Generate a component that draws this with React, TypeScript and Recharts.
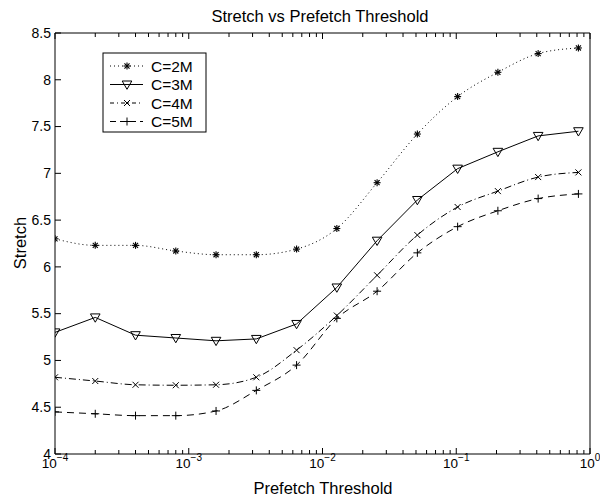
import React from 'react';
import { LineChart, Line, XAxis, YAxis, Customized } from 'recharts';

// Data
const thresholds = [0.0001, 0.0002, 0.0004, 0.0008, 0.0016, 0.0032, 0.0064, 0.0128, 0.0256, 0.0512, 0.1024, 0.2048, 0.4096, 0.8192];
const c2M = [6.30, 6.23, 6.23, 6.17, 6.13, 6.13, 6.19, 6.41, 6.90, 7.42, 7.82, 8.08, 8.28, 8.34];
const c3M = [5.30, 5.46, 5.27, 5.24, 5.21, 5.23, 5.39, 5.78, 6.28, 6.715, 7.05, 7.23, 7.40, 7.45];
const c4M = [4.82, 4.78, 4.74, 4.735, 4.74, 4.82, 5.11, 5.48, 5.91, 6.34, 6.64, 6.81, 6.96, 7.01];
const c5M = [4.45, 4.43, 4.41, 4.41, 4.46, 4.68, 4.95, 5.45, 5.74, 6.15, 6.43, 6.60, 6.73, 6.78];

const seriesNames = ['C=2M', 'C=3M', 'C=4M', 'C=5M'];

const majorX = [0.0001, 0.001, 0.01, 0.1, 1];
const majorXExp = ['\u22124', '\u22123', '\u22122', '\u22121', '0'];
const yTicks = [4, 4.5, 5, 5.5, 6, 6.5, 7, 7.5, 8, 8.5];
const yTickLabels = ['4', '4.5', '5', '5.5', '6', '6.5', '7', '7.5', '8', '8.5'];

const minorX: number[] = [];
for (let d = 0; d < 4; d++) {
  for (let m = 2; m <= 9; m++) minorX.push(majorX[d] * m);
}
const allX = [...majorX, ...minorX].sort((a, b) => a - b);

const data = thresholds.map((t, i) => ({ x: t, c2: c2M[i], c3: c3M[i], c4: c4M[i], c5: c5M[i] }));

const FONT = '"Liberation Sans", Arial, Helvetica, sans-serif';

const isMajor = (v: number) => majorX.findIndex((m) => Math.abs(m - v) / m < 1e-6);

const BottomTick = (props: any) => {
  const { x, y, payload } = props;
  const mi = isMajor(payload.value);
  const major = mi >= 0;
  return (
    <g>
      <line x1={x} x2={x} y1={y} y2={y - (major ? 6 : 4)} stroke="#000" strokeWidth={1} />
      {major && (
        <text x={x} y={y + 14} textAnchor="middle" fontSize={13.5} fill="#000" fontFamily={FONT}>
          <tspan>10</tspan>
          <tspan dy={-7} fontSize={10}>{majorXExp[mi]}</tspan>
        </text>
      )}
    </g>
  );
};

const TopTick = (props: any) => {
  const { x, y, payload } = props;
  const major = isMajor(payload.value) >= 0;
  return <line x1={x} x2={x} y1={y} y2={y + (major ? 6 : 4)} stroke="#000" strokeWidth={1} />;
};

const LeftTick = (props: any) => {
  const { x, y, payload } = props;
  const idx = yTicks.indexOf(payload.value);
  return (
    <g>
      <line x1={x} x2={x + 6} y1={y} y2={y} stroke="#000" strokeWidth={1} />
      <text x={x - 4} y={y} dy="0.34em" textAnchor="end" fontSize={14} fill="#000" fontFamily={FONT}>
        {yTickLabels[idx]}
      </text>
    </g>
  );
};

const RightTick = (props: any) => {
  const { x, y } = props;
  return <line x1={x} x2={x - 6} y1={y} y2={y} stroke="#000" strokeWidth={1} />;
};

const Star = ({ cx, cy }: { cx: number; cy: number }) => {
  const r = 3.5;
  const d = r * 0.72;
  return (
    <g stroke="#000" strokeWidth={1.1}>
      <line x1={cx - r} x2={cx + r} y1={cy} y2={cy} />
      <line x1={cx} x2={cx} y1={cy - r} y2={cy + r} />
      <line x1={cx - d} x2={cx + d} y1={cy - d} y2={cy + d} />
      <line x1={cx - d} x2={cx + d} y1={cy + d} y2={cy - d} />
    </g>
  );
};
const Tri = ({ cx, cy }: { cx: number; cy: number }) => (
  <polygon
    points={`${cx - 4.8},${cy - 3.5} ${cx + 4.8},${cy - 3.5} ${cx},${cy + 4.8}`}
    fill="none"
    stroke="#000"
    strokeWidth={1}
  />
);
const Cross = ({ cx, cy }: { cx: number; cy: number }) => {
  const r = 3;
  return (
    <g stroke="#000" strokeWidth={1}>
      <line x1={cx - r} x2={cx + r} y1={cy - r} y2={cy + r} />
      <line x1={cx - r} x2={cx + r} y1={cy + r} y2={cy - r} />
    </g>
  );
};
const Plus = ({ cx, cy }: { cx: number; cy: number }) => {
  const r = 4;
  return (
    <g stroke="#000" strokeWidth={1}>
      <line x1={cx - r} x2={cx + r} y1={cy} y2={cy} />
      <line x1={cx} x2={cx} y1={cy - r} y2={cy + r} />
    </g>
  );
};

const mk = (C: any, name: string) => (p: any) => (
  <g key={`${name}-${p.index}`}>
    <C cx={p.cx} cy={p.cy} />
  </g>
);

const legendRows = [
  { dash: '1 3', M: Star },
  { dash: undefined, M: Tri },
  { dash: '4 3 1 3', M: Cross },
  { dash: '6 4', M: Plus },
];

const Overlay = () => (
  <g fontFamily={FONT} fill="#000">
    <text x={320} y={22} textAnchor="middle" fontSize={16.5} fill="#000">
      Stretch vs Prefetch Threshold
    </text>
    <text x={323} y={494} textAnchor="middle" fontSize={16.5} fill="#000">
      Prefetch Threshold
    </text>
    <text
      x={26}
      y={243}
      textAnchor="middle"
      fontSize={16.5}
      fill="#000"
      transform="rotate(-90 26 243)"
    >
      Stretch
    </text>
    <rect x={103} y={53} width={103} height={79} fill="#fff" stroke="#000" strokeWidth={1} />
    {legendRows.map((r, i) => {
      const y = 66 + i * 18.5;
      const M = r.M;
      return (
        <g key={i}>
          <line x1={110} x2={143} y1={y} y2={y} stroke="#000" strokeWidth={1} strokeDasharray={r.dash} />
          <M cx={127} cy={y} />
          <text x={151} y={y} dy="0.36em" fontSize={15.5} fill="#000">
            {seriesNames[i]}
          </text>
        </g>
      );
    })}
  </g>
);

export default function App() {
  return (
    <div style={{ position: 'absolute', left: 0, top: 0, width: 600, height: 499, background: '#fff' }}>
      <LineChart width={600} height={499} data={data} margin={{ top: 0, right: 0, bottom: 0, left: 0 }}>
        <XAxis
          xAxisId="b"
          dataKey="x"
          type="number"
          scale="log"
          domain={[0.0001, 1]}
          ticks={allX}
          interval={0}
          allowDataOverflow
          height={45}
          tickSize={0}
          tickMargin={0}
          tickLine={false}
          axisLine={{ stroke: '#000', strokeWidth: 1 }}
          tick={<BottomTick />}
        />
        <XAxis
          xAxisId="t"
          orientation="top"
          dataKey="x"
          type="number"
          scale="log"
          domain={[0.0001, 1]}
          ticks={allX}
          interval={0}
          allowDataOverflow
          height={33}
          tickSize={0}
          tickMargin={0}
          tickLine={false}
          axisLine={{ stroke: '#000', strokeWidth: 1 }}
          tick={<TopTick />}
        />
        <YAxis
          yAxisId="l"
          type="number"
          domain={[4, 8.5]}
          ticks={yTicks}
          interval={0}
          width={55}
          tickSize={0}
          tickMargin={0}
          tickLine={false}
          axisLine={{ stroke: '#000', strokeWidth: 1 }}
          tick={<LeftTick />}
        />
        <YAxis
          yAxisId="r"
          orientation="right"
          type="number"
          domain={[4, 8.5]}
          ticks={yTicks}
          interval={0}
          width={10}
          tickSize={0}
          tickMargin={0}
          tickLine={false}
          axisLine={{ stroke: '#000', strokeWidth: 1 }}
          tick={<RightTick />}
        />
        <Line xAxisId="b" yAxisId="l" dataKey="c2" type="monotone" stroke="#000" strokeWidth={1} strokeDasharray="1 3" dot={mk(Star, 'c2')} activeDot={false} isAnimationActive={false} />
        <Line xAxisId="b" yAxisId="l" dataKey="c3" type="linear" stroke="#000" strokeWidth={1} dot={mk(Tri, 'c3')} activeDot={false} isAnimationActive={false} />
        <Line xAxisId="b" yAxisId="l" dataKey="c4" type="monotone" stroke="#000" strokeWidth={1} strokeDasharray="7 3 1 3" dot={mk(Cross, 'c4')} activeDot={false} isAnimationActive={false} />
        <Line xAxisId="b" yAxisId="l" dataKey="c5" type="monotone" stroke="#000" strokeWidth={1} strokeDasharray="7 5" dot={mk(Plus, 'c5')} activeDot={false} isAnimationActive={false} />
        <Customized component={<Overlay />} />
      </LineChart>
    </div>
  );
}
